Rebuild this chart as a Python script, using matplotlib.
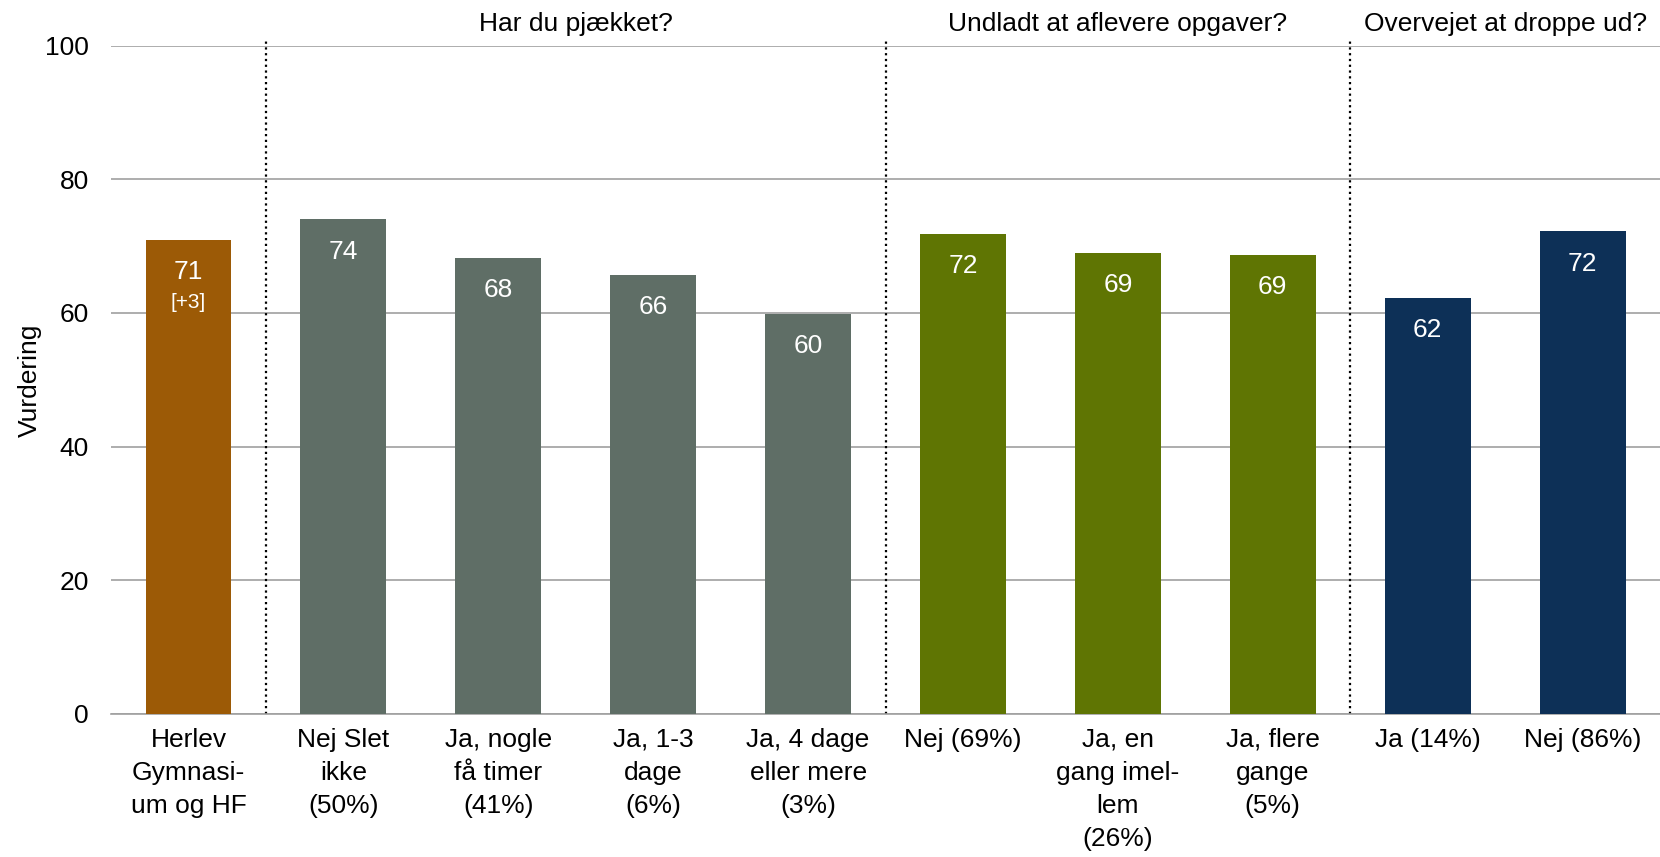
import matplotlib.pyplot as plt

plt.rcParams["font.family"] = ["Liberation Sans", "DejaVu Sans"]

# data
categories = [
    "Herlev\nGymnasi-\num og HF",
    "Nej Slet\nikke\n(50%)",
    "Ja, nogle\nfå timer\n(41%)",
    "Ja, 1-3\ndage\n(6%)",
    "Ja, 4 dage\neller mere\n(3%)",
    "Nej (69%)",
    "Ja, en\ngang imel-\nlem\n(26%)",
    "Ja, flere\ngange\n(5%)",
    "Ja (14%)",
    "Nej (86%)",
]
values = [70.9, 74.0, 68.3, 65.7, 59.9, 71.8, 69.0, 68.7, 62.2, 72.2]
group_titles = ["Har du pjækket?", "Undladt at aflevere opgaver?", "Overvejet at droppe ud?"]
group_spans = [(1, 4), (5, 7), (8, 9)]
change_label = "[+3]"

colors = ["#9c5a06"] + ["#5f6e66"] * 4 + ["#5f7503"] * 3 + ["#0d3057"] * 2

fig = plt.figure(figsize=(16.6, 8.57), dpi=100)
ax = fig.add_axes([0.0669, 0.1669, 0.9331, 0.7798])

x = list(range(len(values)))
ax.bar(x, values, width=0.555, color=colors, zorder=3)

# value labels inside the bars
for i, v in enumerate(values):
    ax.text(i, v - 4.8, f"{v:.0f}", ha="center", va="center",
            color="white", fontsize=19, zorder=4)
ax.text(0, values[0] - 9.4, change_label, ha="center", va="center",
        color="white", fontsize=15, zorder=4)

# group separators and titles
for a, b in group_spans:
    ax.axvline(a - 0.5, ymin=0, ymax=1.008, color="black", linestyle=(0, (1, 1.6)),
               linewidth=1.6, clip_on=False, zorder=2)
for (a, b), title in zip(group_spans, group_titles):
    ax.text((a + b) / 2, 103.2, title, ha="center", va="center", fontsize=19)

ax.set_xlim(-0.5, len(values) - 0.5)
ax.set_ylim(0, 100)
ax.set_yticks([0, 20, 40, 60, 80, 100])
ax.set_xticks(x)
ax.set_xticklabels(categories, fontsize=19, linespacing=1.48)
ax.tick_params(axis="y", labelsize=19, length=0, pad=16)
ax.tick_params(axis="x", length=0, pad=10)
ax.set_ylabel("Vurdering", fontsize=19, labelpad=2)

ax.yaxis.grid(True, color="#a0a0a0", linewidth=1.2, zorder=0)
ax.set_axisbelow(True)
for side in ["top", "right", "left"]:
    ax.spines[side].set_visible(False)
ax.spines["bottom"].set_color("#a0a0a0")
ax.spines["bottom"].set_linewidth(1.2)

fig.savefig("out.png", dpi=100)
